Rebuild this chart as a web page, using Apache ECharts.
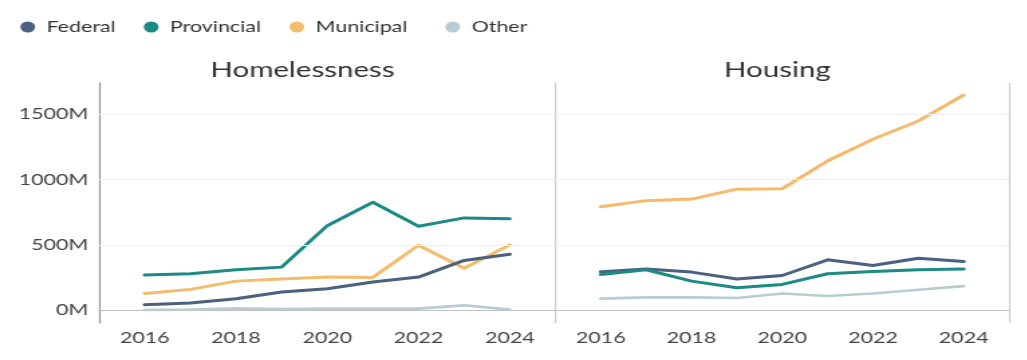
<!DOCTYPE html>
<html>
<head>
<meta charset="utf-8">
<script src="https://cdn.jsdelivr.net/npm/echarts@6/dist/echarts.min.js"></script>
<style>
  html, body { margin: 0; padding: 0; background: #ffffff; overflow: hidden; }
  #chart { width: 767px; height: 360px; transform: scaleX(1.34); transform-origin: 0 0; }
</style>
</head>
<body>
<div id="chart"></div>
<script>
// ---- data (millions of dollars) ----
const years = [2016, 2017, 2018, 2019, 2020, 2021, 2022, 2023, 2024];
const yearTicks = [2016, 2018, 2020, 2022, 2024];
const valueTicks = [0, 500, 1000, 1500];
const seriesNames = ['Federal', 'Provincial', 'Municipal', 'Other'];
const panelTitles = ['Homelessness', 'Housing'];

const homelessFederal    = [43, 56, 89, 140, 165, 216, 254, 381, 429];
const homelessProvincial = [269, 279, 310, 330, 647, 825, 642, 706, 700];
const homelessMunicipal  = [129, 160, 223, 239, 254, 251, 497, 322, 500];
const homelessOther      = [3, 5, 15, 10, 13, 13, 13, 38, 5];

const housingFederal     = [294, 315, 292, 239, 266, 386, 343, 398, 373];
const housingProvincial  = [274, 310, 223, 173, 198, 279, 297, 310, 315];
const housingMunicipal   = [792, 838, 850, 926, 929, 1142, 1307, 1447, 1645];
const housingOther       = [89, 99, 99, 94, 129, 109, 129, 157, 185];

// ---- styling ----
const colors = {
  Federal: '#4a6180',
  Provincial: '#1c8a85',
  Municipal: '#f3bb6b',
  Other: '#b6cdd1'
};
const FONT = 'Lato';
const pair = (xs, ys) => xs.map((x, i) => [x, ys[i]]);

const panels = [
  { Federal: homelessFederal, Provincial: homelessProvincial, Municipal: homelessMunicipal, Other: homelessOther },
  { Federal: housingFederal, Provincial: housingProvincial, Municipal: housingMunicipal, Other: housingOther }
];

const gridLines = (extra) => ({
  symbol: 'none',
  silent: true,
  animation: false,
  label: { show: false },
  lineStyle: { color: '#eeeeee', type: 'solid', width: 1 },
  data: [
    { yAxis: 0, lineStyle: { color: '#c8c8c8', type: 'dotted', width: 1 } },
    { yAxis: 500 }, { yAxis: 1000 }, { yAxis: 1500 }
  ].concat(extra || [])
});

const series = [];
panels.forEach((p, gi) => {
  ['Other', 'Municipal', 'Federal', 'Provincial'].forEach(name => {
    const s = {
      name: name,
      type: 'line',
      xAxisIndex: gi,
      yAxisIndex: gi,
      data: pair(years, p[name]),
      showSymbol: false,
      symbol: 'none',
      lineStyle: { color: colors[name], width: name === 'Other' ? 2.6 : 3, cap: 'round', join: 'round' },
      itemStyle: { color: colors[name] },
      animation: false,
      z: 3
    };
    if (name === 'Other') {
      s.markLine = gridLines(gi === 1 ? [{ xAxis: 2025, lineStyle: { color: '#cccccc', type: 'solid', width: 1.2 } }] : []);
    }
    series.push(s);
  });
});

const legendLefts = [15.2, 107.3, 216.0, 332.4];
const legends = seriesNames.map((n, i) => ({
  data: [n],
  left: legendLefts[i],
  top: 19,
  padding: 0,
  icon: 'circle',
  itemWidth: 18,
  itemHeight: 11,
  itemGap: 0,
  selectedMode: false,
  textStyle: { fontFamily: FONT, fontSize: 16, color: '#333333' }
}));

const axisX = (gi) => ({
  type: 'value',
  gridIndex: gi,
  min: 2015,
  max: 2025,
  axisLine: { show: true, lineStyle: { color: '#bbbbbb', width: 1.2 } },
  axisTick: { show: false, customValues: yearTicks },
  splitLine: { show: false },
  axisLabel: {
    customValues: yearTicks,
    formatter: v => String(v),
    fontFamily: FONT, fontSize: 16, color: '#444444', margin: 7
  }
});

const axisY = (gi) => ({
  type: 'value',
  gridIndex: gi,
  min: -97,
  max: 1737,
  axisLine: { show: true, lineStyle: { color: gi === 0 ? '#9a9a9a' : '#cccccc', width: 1.2 } },
  axisTick: { show: false, customValues: valueTicks },
  splitLine: { show: false },
  axisLabel: {
    show: gi === 0,
    customValues: valueTicks,
    formatter: v => v + 'M',
    fontFamily: FONT, fontSize: 16, color: '#444444', margin: 8
  }
});

const option = {
  backgroundColor: '#ffffff',
  animation: false,
  title: [
    { text: panelTitles[0], left: 225.7, top: 59, padding: 0, textAlign: 'center',
      textStyle: { fontFamily: FONT, fontSize: 22, fontWeight: 'normal', color: '#333333' } },
    { text: panelTitles[1], left: 580.2, top: 59, padding: 0, textAlign: 'center',
      textStyle: { fontFamily: FONT, fontSize: 22, fontWeight: 'normal', color: '#333333' } }
  ],
  legend: legends,
  grid: [
    { left: 73.9, top: 83, width: 340.6, height: 240, containLabel: false },
    { left: 414.5, top: 83, width: 338.5, height: 240, containLabel: false }
  ],
  xAxis: [axisX(0), axisX(1)],
  yAxis: [axisY(0), axisY(1)],
  series: series
};

const chart = echarts.init(document.getElementById('chart'), null, { renderer: 'canvas' });
chart.setOption(option);
</script>
</body>
</html>
